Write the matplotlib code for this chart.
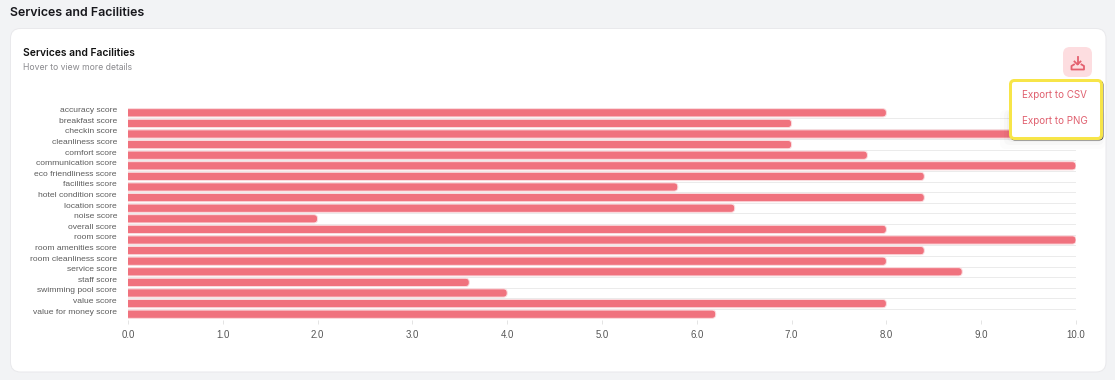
import matplotlib
matplotlib.use("Agg")
import matplotlib.pyplot as plt
from matplotlib.patches import FancyBboxPatch

categories = ["accuracy score", "breakfast score", "checkin score", "cleanliness score",
              "comfort score", "communication score", "eco friendliness score",
              "facilities score", "hotel condition score", "location score", "noise score",
              "overall score", "room score", "room amenities score", "room cleanliness score",
              "service score", "staff score", "swimming pool score", "value score",
              "value for money score"]
scores = [8.0, 7.0, 10.0, 7.0, 7.8, 10.0, 8.4, 5.8, 8.4, 6.4, 2.0, 8.0, 10.0, 8.4, 8.0,
          8.8, 3.6, 4.0, 8.0, 6.2]
x_ticks = [0, 1, 2, 3, 4, 5, 6, 7, 8, 9, 10]
export_items = ["Export to CSV", "Export to PNG"]

W, H = 1115, 380
px = 0.72  # one pixel in points at dpi 100
BAR = "#f0727e"
HEAD = ["Inter", "DejaVu Sans"]


def px_axes(fig, zorder):
    ax = fig.add_axes([0, 0, 1, 1], zorder=zorder)
    ax.set_xlim(0, W)
    ax.set_ylim(H, 0)
    ax.axis("off")
    ax.patch.set_alpha(0)
    return ax


def rbox(ax, x0, y0, x1, y1, r, **kw):
    ax.add_patch(FancyBboxPatch((x0, y0), x1 - x0, y1 - y0,
                                boxstyle=f"round,pad=0,rounding_size={r}", **kw))


fig = plt.figure(figsize=(W / 100, H / 100), dpi=100, facecolor="#f2f3f5")

# page and card
back = px_axes(fig, 0)
rbox(back, 10.5, 28.5, 1106, 372, 10, facecolor="white", edgecolor="#e9e9ec", linewidth=1 * px)
back.text(10, 13, "Services and Facilities", fontsize=12.4 * px, fontweight="semibold",
          family=HEAD, color="#17171c", va="center")
back.text(23, 52.5, "Services and Facilities", fontsize=10.3 * px, fontweight="semibold",
          family=HEAD, color="#111111", va="center")
back.text(23, 67.5, "Hover to view more details", fontsize=8.65 * px, family=HEAD,
          color="#8a8a8e", va="center")

# chart
ax = fig.add_axes([128 / W, 1 - 319.5 / H, 948 / W, 212 / H], zorder=1)
ax.patch.set_alpha(0)
ax.set_xlim(0, 10)
ax.set_ylim(len(categories) - 0.5, -0.5)
for s in ax.spines.values():
    s.set_visible(False)

h = 0.78
for i, v in enumerate(scores):
    # left end runs past the axes so only the right end looks rounded
    ax.add_patch(FancyBboxPatch((-0.1, i - h / 2), v + 0.1, h,
                                boxstyle="round,pad=0,rounding_size=0.04",
                                mutation_aspect=8.9, facecolor=BAR,
                                edgecolor="#fbdde0", linewidth=1.0 * px, zorder=3))
    # labels sit about 2px above the bar centre, so they are placed by offset
    ax.annotate(categories[i], xy=(0, i), xytext=(-11 * px, 2 * px), textcoords="offset points",
                ha="right", va="center", family="Liberation Sans", fontsize=8.5 * px,
                color="#5c5c5c", annotation_clip=False)

ax.set_yticks([])
ax.set_yticks([i - 0.5 for i in range(len(categories) + 1)], minor=True)
ax.grid(axis="y", which="minor", color="#ebebeb", linewidth=1 * px, zorder=1)
ax.tick_params(axis="y", which="minor", length=0)
ax.set_xticks(x_ticks)
ax.set_xticklabels([f"{t:.1f}" for t in x_ticks], family="Liberation Sans",
                   fontsize=9.6 * px, color="#555555")
ax.tick_params(axis="x", length=4 * px, width=1 * px, color="#e4e4e4", pad=7 * px)

# download button and export menu sit on top of the chart
top = px_axes(fig, 2)
rbox(top, 1063, 47, 1092, 77, 7, facecolor="#fddde0", edgecolor="none")
icon = "#e4606f"
lw = 1.8 * px
top.plot([1077.5, 1077.5], [57, 64], color=icon, lw=lw)
top.plot([1074.5, 1077.5, 1080.5], [61.5, 64.5, 61.5], color=icon, lw=lw)
top.plot([1074, 1071.5, 1071.5, 1084, 1084, 1081.5], [64.5, 66, 69.5, 69.5, 66, 64.5],
         color=icon, lw=lw, solid_joinstyle="round")

for grow, a in [(10, 0.012), (6, 0.02), (3, 0.025)]:
    rbox(top, 1010 - grow, 110, 1102 + grow * 0.3, 139 + grow, 6, facecolor="black",
         edgecolor="none", alpha=a)
rbox(top, 1011, 81, 1103, 140, 4, facecolor="none", edgecolor="#55524a", linewidth=1.0 * px)
rbox(top, 1010.5, 80.5, 1101.5, 138.5, 4, facecolor="white", edgecolor="#f7e548",
     linewidth=3 * px)
for label, y in zip(export_items, [95.5, 121.5]):
    top.text(1022, y, label, fontsize=9.8 * px, family=HEAD, color="#e0606f", va="center")

fig.savefig("out.png", dpi=100, facecolor=fig.get_facecolor())
plt.close(fig)
